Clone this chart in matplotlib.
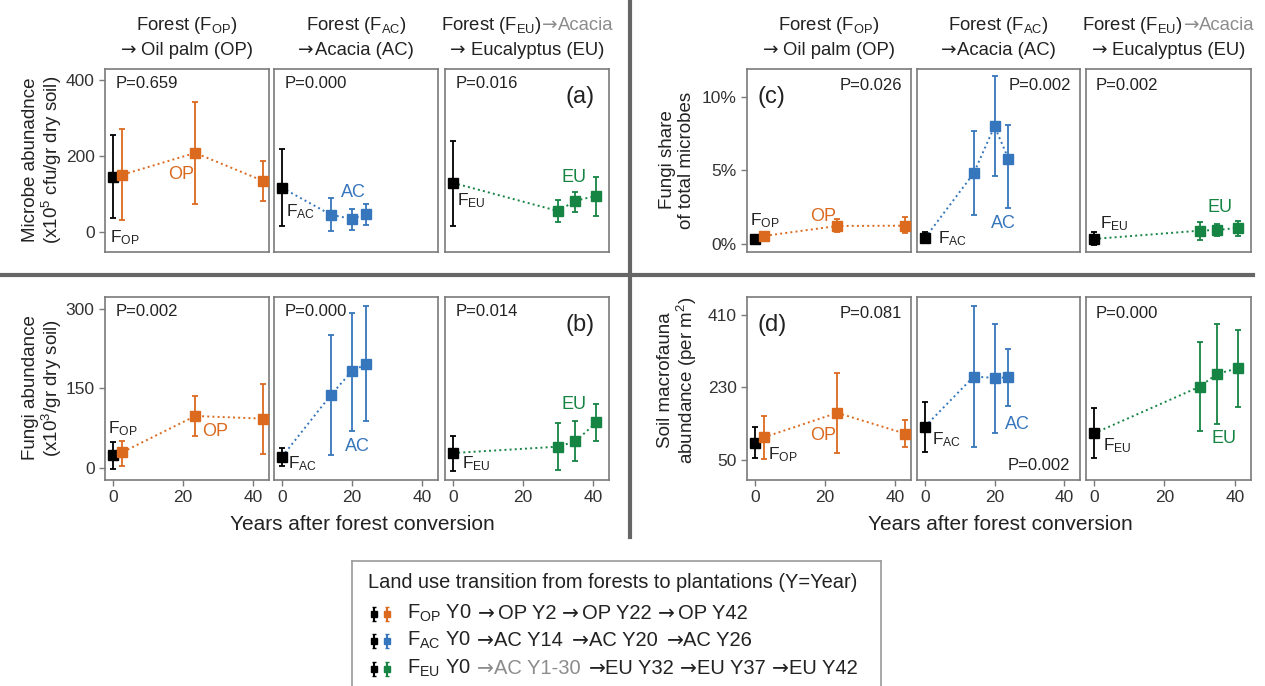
import matplotlib
matplotlib.use('Agg')
from matplotlib import pyplot as plt
from matplotlib.lines import Line2D

plt.rcParams['font.family'] = ['Liberation Sans', 'DejaVu Sans']
plt.rcParams['mathtext.fontset'] = 'custom'
plt.rcParams['mathtext.rm'] = 'Liberation Sans'
plt.rcParams['mathtext.it'] = 'Liberation Sans:italic'
plt.rcParams['mathtext.bf'] = 'Liberation Sans:bold'

# Years after conversion (first point is the forest reference)
years_op = [0, 2.5, 23.5, 43]
years_ac = [0, 14, 20, 24]
years_eu = [0, 30, 35, 41]

# (a) microbe abundance: mean, lower, upper
microbe_op = [145, 150, 208, 134]
microbe_op_lo = [37, 32, 74, 82]
microbe_op_hi = [255, 271, 342, 187]
microbe_ac = [116, 45, 34, 47]
microbe_ac_lo = [16, 3, 5, 18]
microbe_ac_hi = [218, 89, 61, 74]
microbe_eu = [129, 55, 82, 95]
microbe_eu_lo = [16, 26, 53, 42]
microbe_eu_hi = [240, 84, 105, 145]

# (b) fungi abundance
fungi_op = [25, 29, 98, 93]
fungi_op_lo = [-2, 4, 60, 27]
fungi_op_hi = [49, 51, 136, 159]
fungi_ac = [21, 138, 183, 196]
fungi_ac_lo = [3, 24, 70, 89]
fungi_ac_hi = [38, 251, 293, 306]
fungi_eu = [28, 40, 50, 86]
fungi_eu_lo = [-6, -5, 13, 50]
fungi_eu_hi = [60, 85, 89, 121]

# (c) fungi share of total microbes (%)
share_op = [0.34, 0.54, 1.22, 1.24]
share_op_lo = [0.18, 0.38, 0.80, 0.77]
share_op_hi = [0.50, 0.70, 1.70, 1.84]
share_ac = [0.40, 4.8, 8.0, 5.8]
share_ac_lo = [0.13, 2.0, 4.6, 2.45]
share_ac_hi = [0.80, 7.65, 11.4, 8.1]
share_eu = [0.34, 0.90, 0.95, 1.09]
share_eu_lo = [-0.07, 0.27, 0.54, 0.56]
share_eu_hi = [0.80, 1.50, 1.36, 1.59]

# (d) soil macrofauna abundance
fauna_op = [93, 106, 167, 115]
fauna_op_lo = [54, 52, 68, 81]
fauna_op_hi = [133, 160, 267, 149]
fauna_ac = [133, 257, 254, 255]
fauna_ac_lo = [70, 83, 118, 185]
fauna_ac_hi = [195, 432, 389, 326]
fauna_eu = [116, 232, 264, 278]
fauna_eu_lo = [54, 123, 139, 182]
fauna_eu_hi = [179, 342, 389, 373]

C_OP = '#DB6A1F'
C_AC = '#3676BC'
C_EU = '#168443'
FRAME = '#7a7a7a'
TXT = '#222222'
GREY = '#8c8c8c'
ARROW = ['DejaVu Sans']
BODY = ['Liberation Sans', 'DejaVu Sans']

W, H = 1265, 686
fig = plt.figure(figsize=(W / 100, H / 100), dpi=100)
renderer = fig.canvas.get_renderer()


def box(x0, y0, x1, y1):
    return [x0 / W, 1 - y1 / H, (x1 - x0) / W, (y1 - y0) / H]


def fx(x):
    return x / W


def fy(y):
    return 1 - y / H


def seq(x, y, parts, size=13.3, ha='left'):
    # lay out text pieces one after another along a baseline (pixel coords)
    texts, widths = [], []
    for s, color, fam, gap in parts:
        t = fig.text(0, 0, s, color=color, fontsize=size, family=fam,
                     ha='left', va='baseline')
        texts.append(t)
        widths.append(t.get_window_extent(renderer).width + gap)
    total = sum(widths)
    if ha == 'center':
        x -= total / 2
    elif ha == 'right':
        x -= total
    for t, w in zip(texts, widths):
        t.set_position((fx(x), fy(y)))
        x += w


cols_left = [(105, 269), (274, 438), (445, 609)]
cols_right = [(747, 911), (917, 1080), (1086, 1251)]


def panel(rect, x, m, lo, hi, color, ylim, yticks, yticklabels, bottom):
    ax = fig.add_axes(box(rect[0], rect[1], rect[2], rect[3]))
    ax.plot(x, m, ls=':', color=color, lw=1.4, zorder=1)
    for i in range(len(x)):
        c = 'black' if i == 0 else color
        ax.errorbar(x[i], m[i], yerr=[[m[i] - lo[i]], [hi[i] - m[i]]], fmt='s',
                    color=c, ms=6.5, capsize=2.5, elinewidth=1.3, capthick=1.3, zorder=3)
    ax.set_xlim(-2.3, 44.6)
    ax.set_ylim(*ylim)
    for s in ax.spines.values():
        s.set_color(FRAME)
        s.set_linewidth(1.2)
    ax.tick_params(color=FRAME, labelcolor='#333333', labelsize=12.5, length=4, width=1)
    if bottom:
        ax.set_xticks([0, 20, 40])
    else:
        ax.set_xticks([])
    if yticks is not None:
        ax.set_yticks(yticks)
        ax.set_yticklabels(yticklabels)
    else:
        ax.set_yticks([])
    return ax


def label(ax, x, y, s, color=TXT, size=12.5):
    ax.text(x, y, s, color=color, fontsize=size, ha='left', va='center')


def ptext(ax, x, y, s, ha='left'):
    ax.text(x, y, s, transform=ax.transAxes, fontsize=12, color=TXT, ha=ha, va='center')


def tag(ax, x, y, s, ha):
    ax.text(x, y, s, transform=ax.transAxes, fontsize=17, color=TXT, ha=ha, va='center')


FOP = r'F$_{\mathrm{OP}}$'
FAC = r'F$_{\mathrm{AC}}$'
FEU = r'F$_{\mathrm{EU}}$'
ARR = '\u2192'

# ---- (a) microbe abundance
ya = (-53, 429)
a1 = panel((105, 69, 269, 252), years_op, microbe_op, microbe_op_lo, microbe_op_hi, C_OP, ya, [0, 200, 400], ['0', '200', '400'], False)
a2 = panel((274, 69, 438, 252), years_ac, microbe_ac, microbe_ac_lo, microbe_ac_hi, C_AC, ya, None, None, False)
a3 = panel((445, 69, 609, 252), years_eu, microbe_eu, microbe_eu_lo, microbe_eu_hi, C_EU, ya, None, None, False)
ptext(a1, 0.067, 0.923, 'P=0.659')
ptext(a2, 0.067, 0.923, 'P=0.000')
ptext(a3, 0.067, 0.923, 'P=0.016')
tag(a3, 0.915, 0.845, '(a)', 'right')
label(a1, -0.9, -15, FOP)
label(a1, 15.7, 150, 'OP', C_OP, 13)
label(a2, 1.2, 52, FAC)
label(a2, 16.8, 103, 'AC', C_AC, 13)
label(a3, 1.2, 82, FEU)
label(a3, 31, 142, 'EU', C_EU, 13)

# ---- (b) fungi abundance
yb = (-23, 323)
b1 = panel((105, 297, 269, 480), years_op, fungi_op, fungi_op_lo, fungi_op_hi, C_OP, yb, [0, 150, 300], ['0', '150', '300'], True)
b2 = panel((274, 297, 438, 480), years_ac, fungi_ac, fungi_ac_lo, fungi_ac_hi, C_AC, yb, None, None, True)
b3 = panel((445, 297, 609, 480), years_eu, fungi_eu, fungi_eu_lo, fungi_eu_hi, C_EU, yb, None, None, True)
ptext(b1, 0.067, 0.923, 'P=0.002')
ptext(b2, 0.067, 0.923, 'P=0.000')
ptext(b3, 0.067, 0.923, 'P=0.014')
tag(b3, 0.915, 0.845, '(b)', 'right')
label(b1, -1.4, 75, FOP)
label(b1, 25.5, 68, 'OP', C_OP, 13)
label(b2, 1.8, 7, FAC)
label(b2, 18, 40, 'AC', C_AC, 13)
label(b3, 2.5, 7, FEU)
label(b3, 31, 119, 'EU', C_EU, 13)

# ---- (c) fungi share
yc = (-0.55, 11.9)
c1 = panel((747, 69, 911, 252), years_op, share_op, share_op_lo, share_op_hi, C_OP, yc, [0, 5, 10], ['0%', '5%', '10%'], False)
c2 = panel((917, 69, 1080, 252), years_ac, share_ac, share_ac_lo, share_ac_hi, C_AC, yc, None, None, False)
c3 = panel((1086, 69, 1251, 252), years_eu, share_eu, share_eu_lo, share_eu_hi, C_EU, yc, None, None, False)
ptext(c1, 0.945, 0.91, 'P=0.026', 'right')
ptext(c2, 0.945, 0.91, 'P=0.002', 'right')
ptext(c3, 0.06, 0.91, 'P=0.002')
tag(c1, 0.067, 0.845, '(c)', 'left')
label(c1, -1.4, 1.55, FOP)
label(c1, 15.7, 1.84, 'OP', C_OP, 13)
label(c2, 3.7, 0.35, FAC)
label(c2, 19.1, 1.36, 'AC', C_AC, 13)
label(c3, 1.7, 1.35, FEU)
label(c3, 32.3, 2.5, 'EU', C_EU, 13)

# ---- (d) soil macrofauna
yd = (0, 455)
d1 = panel((747, 297, 911, 480), years_op, fauna_op, fauna_op_lo, fauna_op_hi, C_OP, yd, [50, 230, 410], ['50', '230', '410'], True)
d2 = panel((917, 297, 1080, 480), years_ac, fauna_ac, fauna_ac_lo, fauna_ac_hi, C_AC, yd, None, None, True)
d3 = panel((1086, 297, 1251, 480), years_eu, fauna_eu, fauna_eu_lo, fauna_eu_hi, C_EU, yd, None, None, True)
ptext(d1, 0.945, 0.91, 'P=0.081', 'right')
ptext(d2, 0.94, 0.077, 'P=0.002', 'right')
ptext(d3, 0.06, 0.91, 'P=0.000')
tag(d1, 0.067, 0.845, '(d)', 'left')
label(d1, 3.7, 62, FOP)
label(d1, 15.7, 110, 'OP', C_OP, 13)
label(d2, 2.0, 100, FAC)
label(d2, 22.9, 139, 'AC', C_AC, 13)
label(d3, 2.6, 86, FEU)
label(d3, 33.4, 102, 'EU', C_EU, 13)

# ---- column titles
for cols in (cols_left, cols_right):
    centers = [(a + b) / 2 for a, b in cols]
    seq(centers[0], 30, [('Forest (' + FOP + ')', TXT, BODY, 0)], ha='center')
    seq(centers[0], 55, [(ARR, TXT, ARROW, 5), ('Oil palm (OP)', TXT, BODY, 0)], ha='center')
    seq(centers[1], 30, [('Forest (' + FAC + ')', TXT, BODY, 0)], ha='center')
    seq(centers[1], 55, [(ARR, TXT, ARROW, 1), ('Acacia (AC)', TXT, BODY, 0)], ha='center')
    seq(centers[2], 30, [('Forest (' + FEU + ')', TXT, BODY, 1), (ARR, GREY, ARROW, 0),
                         ('Acacia', GREY, BODY, 0)], ha='center')
    seq(centers[2], 55, [(ARR, TXT, ARROW, 5), ('Eucalyptus (EU)', TXT, BODY, 0)], ha='center')

# ---- axis titles
fig.text(fx(43), fy(160), 'Microbe abunadnce\n(x10$^{5}$ cfu/gr dry soil)', rotation=90,
         ha='center', va='center', fontsize=13.5, color=TXT, multialignment='center', linespacing=1.1)
fig.text(fx(43), fy(388), 'Fungi abundance\n(x10$^{3}$/gr dry soil)', rotation=90,
         ha='center', va='center', fontsize=13.5, color=TXT, multialignment='center', linespacing=1.1)
fig.text(fx(677), fy(160), 'Fungi share\nof total microbes', rotation=90,
         ha='center', va='center', fontsize=13.5, color=TXT, multialignment='center', linespacing=1.1)
fig.text(fx(678), fy(380), 'Soil macrofauna\nabundance (per m$^{2}$)', rotation=90,
         ha='center', va='center', fontsize=13.5, color=TXT, multialignment='center', linespacing=1.1)
fig.text(fx(362), fy(525), 'Years after forest conversion', ha='center', va='center', fontsize=15, color=TXT)
fig.text(fx(1000), fy(525), 'Years after forest conversion', ha='center', va='center', fontsize=15, color=TXT)

# ---- dividers
fig.add_artist(Line2D([0, fx(1253)], [fy(275), fy(275)], color='#666666', lw=3))
fig.add_artist(Line2D([fx(630), fx(630)], [1, fy(537)], color='#666666', lw=3))

# ---- legend box
lg = fig.add_axes(box(352, 561, 881, 700))
lg.set_xlim(352, 881)
lg.set_ylim(700, 561)
lg.set_xticks([])
lg.set_yticks([])
for s in lg.spines.values():
    s.set_color('#9a9a9a')
    s.set_linewidth(1.2)
lg.text(368, 583, 'Land use transition from forests to plantations (Y=Year)',
        fontsize=14.4, color=TXT, ha='left', va='center')
rows_y = [614, 641, 669]
for yy, c in zip(rows_y, [C_OP, C_AC, C_EU]):
    for xx, cc in ((374, 'black'), (387, c)):
        lg.errorbar(xx, yy, yerr=7, fmt='s', color=cc, ms=5, capsize=1.5, elinewidth=1.5)

sp = 6
b = 5
fs = 14.5
seq(407, rows_y[0] + b, [(FOP + ' Y0', TXT, BODY, sp), (ARR, TXT, ARROW, 3), ('OP Y2', TXT, BODY, sp),
                         (ARR, TXT, ARROW, 3), ('OP Y22', TXT, BODY, sp), (ARR, TXT, ARROW, 3),
                         ('OP Y42', TXT, BODY, 0)], size=fs)
seq(407, rows_y[1] + b, [(FAC + ' Y0', TXT, BODY, sp), (ARR, TXT, ARROW, 0), ('AC Y14', TXT, BODY, sp + 3),
                         (ARR, TXT, ARROW, 0), ('AC Y20', TXT, BODY, sp + 3), (ARR, TXT, ARROW, 0),
                         ('AC Y26', TXT, BODY, 0)], size=fs)
seq(407, rows_y[2] + b, [(FEU + ' Y0', TXT, BODY, sp), (ARR, GREY, ARROW, 0), ('AC Y1-30', GREY, BODY, sp + 2),
                         (ARR, TXT, ARROW, 0), ('EU Y32', TXT, BODY, sp), (ARR, TXT, ARROW, 0),
                         ('EU Y37', TXT, BODY, sp), (ARR, TXT, ARROW, 0), ('EU Y42', TXT, BODY, 0)], size=fs)

fig.savefig('out.png', dpi=100)
